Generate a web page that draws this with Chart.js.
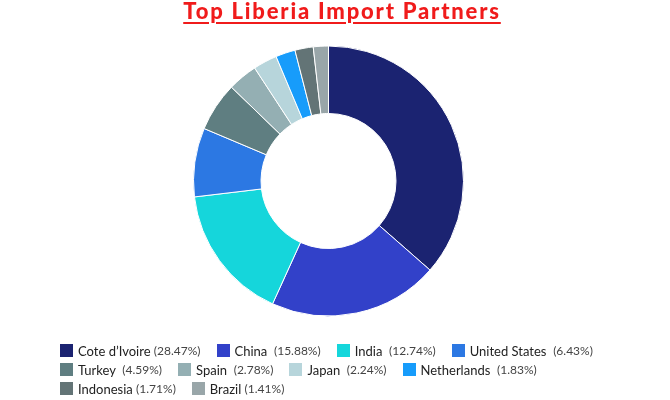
<!DOCTYPE html>
<html>
<head>
<meta charset="utf-8">
<script src="https://cdn.jsdelivr.net/npm/chart.js@4.4.0/dist/chart.umd.min.js"></script>
<style>
    body { margin: 0; width: 670px; height: 400px; position: relative; background: #fff; font-family: Lato, sans-serif; overflow: hidden; }
    #title { position: absolute; top: -1px; left: 0; width: 684px; text-align: center; font-size: 22px; font-weight: 900; line-height: 24px; color: #f01b1b;
             letter-spacing: 1.8px; text-decoration: underline; text-decoration-thickness: 2px; text-underline-offset: 3px; }
    #wrap { position: absolute; left: 0; top: 0; width: 670px; height: 400px; }
    #legend { position: absolute; left: 60px; top: 341px; width: 560px; display: flex; flex-wrap: wrap; }
    .item { display: flex; align-items: center; height: 19px; margin-right: 16px; white-space: pre; }
    .box { width: 13px; height: 13px; margin-right: 5px; }
    .name { font-size: 13px; color: #222; }
    .pct { font-size: 12px; color: #444; }
</style>
</head>
<body>
<div id="wrap"><canvas id="partnersChart"></canvas></div>
<div id="title">Top Liberia Import Partners</div>
<div id="legend"></div>
<script>
// import partners, share of total imports (%)
const partners = ['Cote d\u2019Ivoire', 'China', 'India', 'United States', 'Turkey', 'Spain', 'Japan', 'Netherlands', 'Indonesia', 'Brazil'];
const shares = [28.47, 15.88, 12.74, 6.43, 4.59, 2.78, 2.24, 1.83, 1.71, 1.41];
const sliceColors = ['#1b2371', '#3241c9', '#15d6db', '#2c78e3', '#5f7e81', '#94afb3', '#b7d5db', '#179cfb', '#637476', '#99a6a9'];

document.addEventListener('DOMContentLoaded', function() {
    const ctx = document.getElementById('partnersChart').getContext('2d');

    new Chart(ctx, {
        type: 'doughnut',
        data: {
            labels: partners,
            datasets: [{
                data: shares,
                backgroundColor: sliceColors,
                borderColor: '#ffffff',
                borderWidth: 1
            }]
        },
        options: {
            responsive: true,
            maintainAspectRatio: false,
            animation: false,
            cutout: '50%',
            layout: {
                padding: { left: 193, right: 206, top: 45, bottom: 83 }
            },
            plugins: {
                legend: { display: false },
                tooltip: { enabled: false }
            }
        }
    });

    // html legend (names + shares)
    const legend = document.getElementById('legend');
    partners.forEach(function(name, i) {
        const item = document.createElement('div');
        item.className = 'item';
        const gap = (i === 0 || i >= 8) ? ' ' : '  ';
        item.innerHTML = '<span class="box" style="background:' + sliceColors[i] + '"></span>' +
            '<span class="name">' + name + gap + '</span><span class="pct">(' + shares[i].toFixed(2) + '%)</span>';
        legend.appendChild(item);
    });
});
</script>
</body>
</html>
